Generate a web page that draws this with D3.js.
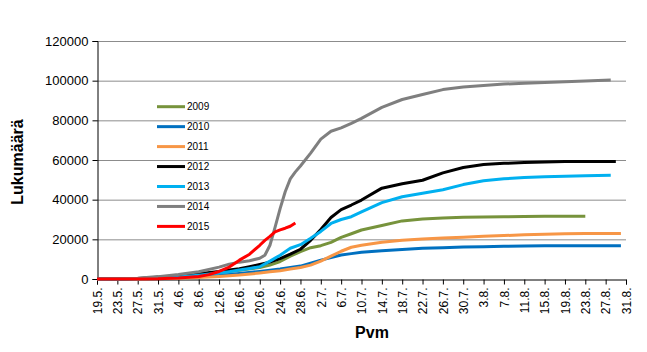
<!DOCTYPE html>
<html>
  <head>
    <title>Lukumäärä</title>
    <script src="https://d3js.org/d3.v7.min.js"></script>
    <style>
      body { margin: 0; background: white; }
      text { font-family: "Liberation Sans", Arial, sans-serif; fill: black; }
    </style>
  </head>
  <body>
    <script>
      let width = 647, height = 352;
      let margin = {left: 97, right: 21, top: 41, bottom: 73};

      // dates the values were read at
      let dates = ["19.5.", "23.5.", "27.5.", "31.5.", "4.6.", "8.6.", "10.6.", "12.6.", "14.6.", "16.6.",
                   "18.6.", "20.6.", "21.6.", "22.6.", "23.6.", "24.6.", "25.6.", "26.6.", "27.6.", "28.6.",
                   "30.6.", "2.7.", "4.7.", "6.7.", "8.7.", "10.7.", "14.7.", "18.7.", "22.7.", "26.7.",
                   "30.7.", "3.8.", "7.8.", "11.8.", "15.8.", "19.8.", "23.8.", "28.8.", "29.8.", "30.8."];

      let v2009 = [0, 30, 150, 600, 1200, 2200, null, 3200, null, 4400, null, 5800, null, 7000, null, 8800, null, 11500, null, 13800,
                   15800, 16800, 18500, 21000, 22800, 24700, 27000, 29300, 30300, 30800, 31100, 31300, 31400, 31500, 31600, 31700, 31700, null, null, null];
      let v2010 = [0, 0, 50, 300, 600, 1100, null, 1800, null, 2800, null, 3800, null, 4400, null, 5000, null, 5800, null, 6500,
                   8000, 9500, 10800, 12100, 12800, 13500, 14300, 14900, 15500, 15800, 16100, 16300, 16500, 16700, 16800, 16800, 16800, null, null, 16800];
      let v2011 = [0, 0, 50, 200, 400, 800, null, 1300, null, 2000, null, 3000, null, 3600, null, 4200, null, 5000, null, 5800,
                   7000, 9000, 11500, 14000, 16000, 17000, 18500, 19500, 20200, 20700, 21100, 21500, 21900, 22300, 22600, 22800, 22900, null, null, 23000];
      let v2012 = [0, 50, 250, 900, 1600, 2700, null, 3800, 4500, 5200, 6200, 7300, null, 8500, null, 10300, null, 12500, null, 15000,
                   19500, 25000, 31000, 35000, 37300, 39800, 45800, 48000, 49800, 53500, 56200, 57700, 58300, 58700, 59000, 59200, 59300, null, 59300, null];
      let v2013 = [0, 30, 150, 500, 1000, 1900, null, 3000, 3700, 4500, 5300, 6200, null, 9000, null, 12000, null, 15500, null, 17300,
                   20500, 24000, 28000, 30000, 31400, 33800, 38500, 41500, 43200, 45000, 47600, 49500, 50500, 51200, 51500, 51800, 52000, 52300, null, null];
      let v2014 = [0, 100, 400, 1200, 2300, 3700, null, 6000, 7500, 8500, 9200, 10500, 12000, 17000, 26000, 35500, 44000, 50500, 54000, 57000,
                   63500, 70500, 74500, 76200, 78500, 81000, 86500, 90500, 93000, 95500, 96800, 97600, 98300, 98700, 99100, 99400, 99800, 100300, null, null];
      let v2015 = [0, 0, 0, 100, 500, 1300, 2200, 3800, 6000, 9500, 12500, 17000, 19500, 21500, 23800, 24800, 25600, 26600, 28200, null,
                   null, null, null, null, null, null, null, null, null, null, null, null, null, null, null, null, null, null, null, null];

      let seriesNames = ["2009", "2010", "2011", "2012", "2013", "2014", "2015"];
      let seriesValues = [v2009, v2010, v2011, v2012, v2013, v2014, v2015];
      let colors = ["#77933C", "#0070C0", "#F79646", "#000000", "#00B0F0", "#7F7F7F", "#FF0000"];

      let tickLabels = ["19.5.", "23.5.", "27.5.", "31.5.", "4.6.", "8.6.", "12.6.", "16.6.", "20.6.", "24.6.", "28.6.",
                        "2.7.", "6.7.", "10.7.", "14.7.", "18.7.", "22.7.", "26.7.", "30.7.", "3.8.", "7.8.", "11.8.",
                        "15.8.", "19.8.", "23.8.", "27.8.", "31.8."];
      let yTicks = [0, 20000, 40000, 60000, 80000, 100000, 120000];

      let parse = d3.timeParse("%d.%m.");

      let svg = d3.select("body").append("svg")
                  .attr("width", width).attr("height", height)
                  .style("background", "white");

      let x = d3.scaleTime()
                .domain([parse(tickLabels[0]), parse(tickLabels[tickLabels.length - 1])])
                .range([margin.left, width - margin.right]);
      let y = d3.scaleLinear()
                .domain([0, 120000])
                .range([height - margin.bottom, margin.top]);

      // gridlines
      svg.append("g").selectAll("line").data(yTicks.slice(1)).enter().append("line")
         .attr("x1", margin.left).attr("x2", width - margin.right)
         .attr("y1", d => y(d) + 0.5).attr("y2", d => y(d) + 0.5)
         .attr("stroke", "#8c8c8c").attr("stroke-width", 1);

      // y axis
      let yAxis = svg.append("g")
         .attr("transform", "translate(" + (margin.left + 0.5) + ",0)")
         .call(d3.axisLeft(y).tickValues(yTicks).tickSize(5).tickPadding(4).tickFormat(d3.format("d")));
      yAxis.selectAll("path, line").attr("stroke", "black");
      yAxis.selectAll("text").style("font-size", "13px");

      // x axis
      let xAxis = svg.append("g")
         .attr("transform", "translate(0," + (height - margin.bottom + 0.5) + ")")
         .call(d3.axisBottom(x).tickValues(tickLabels.map(parse)).tickSize(5)
               .tickFormat((d, i) => tickLabels[i]));
      xAxis.selectAll("path, line").attr("stroke", "black");
      xAxis.selectAll("text")
           .style("font-size", "12px")
           .attr("text-anchor", "end")
           .attr("transform", "rotate(-90)")
           .attr("x", -8).attr("y", 0).attr("dy", "0.35em");

      // lines
      let line = d3.line()
                   .x(d => x(parse(d.date)))
                   .y(d => y(d.value));

      seriesValues.forEach(function(vals, i) {
          let pts = dates.map((d, j) => ({date: d, value: vals[j]})).filter(p => p.value !== null);
          svg.append("path").datum(pts)
             .attr("d", line)
             .attr("fill", "none")
             .attr("stroke", colors[i])
             .attr("stroke-width", 3)
             .attr("stroke-linejoin", "round");
      });

      // legend
      let legend = svg.append("g").selectAll("g").data(seriesNames).enter().append("g")
                      .attr("transform", (d, i) => "translate(157," + (106.7 + i * 19.95) + ")");
      legend.append("line").attr("x1", 0).attr("x2", 28)
            .attr("stroke", (d, i) => colors[i]).attr("stroke-width", 3);
      legend.append("text").attr("x", 30).attr("dy", "0.35em")
            .style("font-size", "10px").text(d => d);

      // axis titles
      svg.append("text")
         .attr("transform", "translate(23,162) rotate(-90)")
         .attr("text-anchor", "middle")
         .style("font-size", "16px").style("font-weight", "bold")
         .text("Lukumäärä");
      svg.append("text")
         .attr("x", 372).attr("y", 338)
         .attr("text-anchor", "middle")
         .style("font-size", "16px").style("font-weight", "bold")
         .text("Pvm");
    </script>
  </body>
</html>
